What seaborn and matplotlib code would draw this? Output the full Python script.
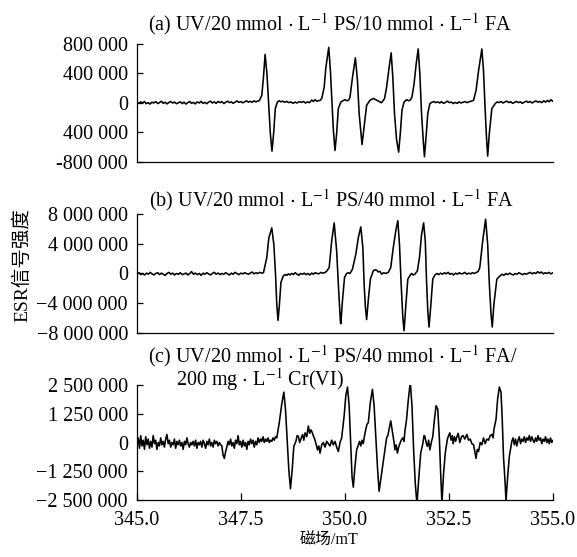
import matplotlib
matplotlib.use("Agg")
import matplotlib.pyplot as plt
import seaborn as sns
import pandas as pd

# ---------------- data (magnetic field in mT, ESR intensity in thousands) ----------------
spec_a = [
    (345.00, 10), (345.05, -5), (345.09, 15), (345.13, 0), (345.18, 20), (345.22, -10), (345.27, 5),
    (345.31, -15), (345.36, 10), (345.40, 0), (345.45, 18), (345.50, -8), (345.54, 5), (345.59, 25),
    (345.63, -5), (345.68, 10), (345.72, -12), (345.77, 8), (345.81, 20), (345.86, 0), (345.90, 12),
    (345.95, -10), (346.00, 5), (346.04, 15), (346.09, -8), (346.13, 10), (346.18, -15), (346.22, 5),
    (346.27, 20), (346.31, -5), (346.36, 8), (346.40, -12), (346.45, 15), (346.50, 0), (346.54, 22),
    (346.59, -6), (346.63, 10), (346.68, -10), (346.72, 12), (346.77, 25), (346.81, 0), (346.86, 15),
    (346.90, -5), (346.95, 20), (347.00, 5), (347.04, 18), (347.09, -8), (347.13, 10), (347.18, 25),
    (347.22, 5), (347.27, 15), (347.31, -5), (347.36, 12), (347.40, 28), (347.45, 8), (347.50, 20),
    (347.54, 2), (347.59, 15), (347.63, 30), (347.68, 12), (347.72, 22), (347.77, 10), (347.81, 28),
    (347.86, 15), (347.90, 25),
    (347.94, 30), (348.00, 102), (348.04, 347), (348.08, 658), (348.125, 391), (348.165, -9),
    (348.205, -409), (348.245, -653), (348.285, -409), (348.325, -76), (348.375, 13),
    (348.42, 30), (348.46, 15), (348.50, 25), (348.55, 10), (348.60, 22), (348.65, 5), (348.70, 15),
    (348.75, -5), (348.80, 12), (348.85, 0), (348.90, 18), (348.95, 8), (349.00, 20), (349.05, 0),
    (349.10, 15), (349.15, 5), (349.20, 40), (349.24, 20), (349.28, 45), (349.32, 25), (349.36, 30),
    (349.40, 35), (349.44, 60), (349.50, 213), (349.54, 480), (349.61, 755), (349.65, 435),
    (349.69, -9), (349.72, -364), (349.76, -644), (349.80, -409), (349.84, -76), (349.90, 13),
    (349.95, 30), (350.00, 45), (350.05, 30), (350.09, 40),
    (350.12, 80), (350.18, 347), (350.25, 613), (350.30, 302), (350.34, -142), (350.41, -564),
    (350.46, -320), (350.52, -31), (350.60, 36), (350.68, 62), (350.74, 45), (350.80, 27),
    (350.85, 10), (350.88, 5),
    (350.95, 58), (351.00, 213), (351.06, 480), (351.11, 680), (351.15, 347), (351.19, -142),
    (351.24, -498), (351.29, -667), (351.33, -409), (351.37, -98), (351.42, 13), (351.48, 44),
    (351.53, 30), (351.57, 40),
    (351.61, 80), (351.66, 258), (351.71, 524), (351.76, 733), (351.80, 391), (351.84, -142),
    (351.88, -498), (351.91, -729), (351.95, -453), (351.99, -142), (352.04, -9),
    (352.09, 10), (352.14, 20), (352.18, 5), (352.23, 15), (352.28, 0), (352.32, 18), (352.37, -5),
    (352.42, 10), (352.46, 25), (352.51, 5), (352.56, 12), (352.60, -8), (352.65, 8), (352.70, -5),
    (352.74, 15), (352.79, 0), (352.84, 10), (352.88, 20), (352.93, 5), (352.98, 15), (353.03, 25),
    (353.09, 36), (353.15, 169), (353.21, 435), (353.29, 733), (353.33, 435), (353.37, -98),
    (353.40, -453), (353.43, -720), (353.47, -409), (353.53, -76), (353.61, -9),
    (353.66, 15), (353.70, 5), (353.75, 20), (353.80, 0), (353.84, 12), (353.89, 25), (353.94, 5),
    (353.98, 18), (354.03, -5), (354.08, 10), (354.12, 22), (354.17, 5), (354.22, 15), (354.26, -5),
    (354.31, 12), (354.36, 25), (354.40, 8), (354.45, 20), (354.50, 0), (354.54, 15), (354.59, 28),
    (354.64, 10), (354.68, 22), (354.73, 5), (354.78, 30), (354.82, 12), (354.87, 35), (354.91, 15),
    (354.95, 45), (355.00, 20),
]

spec_b = [
    (345.00, -50), (345.05, 100), (345.09, -150), (345.14, 0), (345.18, -200), (345.23, 50),
    (345.27, -100), (345.32, 150), (345.36, -50), (345.41, -200), (345.45, 0), (345.50, 100),
    (345.54, -150), (345.59, 50), (345.63, -100), (345.68, -250), (345.72, 0), (345.77, 150),
    (345.81, -100), (345.86, 50), (345.90, -200), (345.95, 0), (346.00, -100), (346.04, 100),
    (346.09, -150), (346.13, -50), (346.18, 50), (346.22, -200), (346.27, 0), (346.31, 250),
    (346.36, -100), (346.40, 50), (346.45, -150), (346.50, 0), (346.54, -250), (346.59, 50),
    (346.63, -100), (346.68, 100), (346.72, -50), (346.77, -200), (346.81, 0), (346.86, 150),
    (346.90, -100), (346.95, 50), (347.00, -150), (347.04, 0), (347.09, -100), (347.13, 100),
    (347.18, -50), (347.22, -200), (347.27, 50), (347.31, -100), (347.36, 150), (347.40, 0),
    (347.45, -150), (347.50, 50), (347.54, -50), (347.59, 100), (347.63, 0), (347.68, -100),
    (347.72, 50), (347.77, 200), (347.81, -50), (347.86, 100), (347.90, 0), (347.95, 150),
    (348.00, 50),
    (348.04, 100), (348.12, 2130), (348.17, 4800), (348.24, 6130), (348.29, 3900), (348.33, -90),
    (348.36, -4100), (348.39, -6300), (348.42, -4500), (348.46, -1200), (348.52, -300),
    (348.56, -150), (348.60, -250), (348.64, -50), (348.68, -200), (348.72, 0), (348.76, -150),
    (348.80, 100), (348.85, -100), (348.89, -250), (348.93, 0), (348.98, -100), (349.02, 50),
    (349.06, -150), (349.11, 0), (349.15, -200), (349.20, 50), (349.24, -100), (349.28, 100),
    (349.33, 0), (349.37, -50), (349.42, 150), (349.46, 50), (349.51, 100),
    (349.56, 300), (349.62, 800), (349.68, 4360), (349.74, 6800), (349.80, 3000), (349.84, -1420),
    (349.89, -6500), (349.90, -6760), (349.94, -3600), (349.99, -500), (350.04, 0), (350.08, 100),
    (350.12, 0),
    (350.18, 580), (350.26, 2580), (350.32, 4800), (350.38, 6270), (350.43, 3470), (350.46, -1420),
    (350.49, -4500), (350.52, -6200), (350.56, -3600), (350.61, -760), (350.68, 360), (350.72, 500),
    (350.76, 440), (350.80, 200), (350.84, 300), (350.88, -90), (350.93, 100), (350.98, 0),
    (351.04, 150),
    (351.10, 800), (351.16, 3470), (351.22, 5700), (351.27, 7100), (351.31, 3900), (351.35, -1420),
    (351.39, -5900), (351.42, -7700), (351.46, -4500), (351.51, -760), (351.56, -300), (351.60, 0),
    (351.64, -200), (351.68, -90), (351.74, 360),
    (351.79, 2130), (351.84, 5200), (351.89, 6800), (351.93, 4360), (351.96, -980), (351.99, -5000),
    (352.02, -7200), (352.06, -4500), (352.11, -760), (352.16, -200), (352.21, 0), (352.25, -150),
    (352.30, 50), (352.34, -100), (352.39, 100), (352.43, -50), (352.48, 150), (352.52, -100),
    (352.57, 0), (352.61, -200), (352.66, 50), (352.70, -100), (352.75, 100), (352.79, -50),
    (352.84, 0), (352.88, 150), (352.93, -100), (352.97, 50), (353.02, -50), (353.06, 100),
    (353.11, 0), (353.16, 150), (353.20, 250),
    (353.24, 800), (353.31, 4360), (353.38, 7300), (353.43, 3900), (353.47, -1420), (353.51, -5400),
    (353.54, -7200), (353.58, -4100), (353.65, -760), (353.73, -300), (353.78, -100), (353.82, -250),
    (353.87, 0), (353.91, -150), (353.96, 50), (354.00, -100), (354.05, -200), (354.09, 0),
    (354.14, -100), (354.18, 100), (354.23, -50), (354.27, -150), (354.32, 0), (354.36, -100),
    (354.41, 50), (354.45, 150), (354.50, -50), (354.54, 100), (354.59, 0), (354.63, 250),
    (354.68, 50), (354.72, 200), (354.77, -50), (354.81, 100), (354.86, 0), (354.90, 150),
    (354.95, -50), (355.00, 100),
]

spec_c = [
    (345.00, -100), (345.03, 200), (345.06, -250), (345.09, 300), (345.12, -150), (345.15, 100),
    (345.18, -300), (345.21, 250), (345.24, -100), (345.27, 150), (345.30, -250), (345.33, 50),
    (345.36, -200), (345.39, 300), (345.42, -50), (345.45, 100), (345.48, -300), (345.51, 0),
    (345.54, -150), (345.57, 200), (345.60, -100), (345.63, 50), (345.66, -200), (345.69, 150),
    (345.72, 350), (345.75, -50), (345.78, 100), (345.81, -200), (345.84, 0), (345.87, -100),
    (345.90, 150), (345.93, -250), (345.96, 50), (345.99, -100), (346.02, 100), (346.05, -150),
    (346.08, 0), (346.11, -300), (346.14, 50), (346.17, -100), (346.20, 200), (346.23, -50),
    (346.26, -200), (346.29, 0), (346.32, -100), (346.35, 50), (346.38, -150), (346.41, 100),
    (346.44, -250), (346.47, 0), (346.50, -100), (346.53, 50), (346.56, -200), (346.59, 100),
    (346.62, -50), (346.65, -250), (346.68, 50), (346.71, -100), (346.74, 150), (346.77, -150),
    (346.80, 0), (346.83, -200), (346.86, 100), (346.89, -50), (346.92, 50), (346.95, -150),
    (346.98, 0), (347.01, -100), (347.04, -150), (347.07, -550), (347.10, -690), (347.13, -400),
    (347.16, -200), (347.19, 50), (347.22, -100), (347.25, 150), (347.28, -150), (347.31, 0),
    (347.34, -250), (347.37, 100), (347.40, -50), (347.43, 300), (347.46, -100), (347.49, 50),
    (347.52, -200), (347.55, 100), (347.58, -150), (347.61, 0), (347.64, -300), (347.67, 50),
    (347.70, -100), (347.73, 150), (347.76, -50), (347.79, 100), (347.82, -200), (347.85, 50),
    (347.88, -100), (347.91, 200), (347.94, 0), (347.97, 150), (348.00, 50), (348.03, 250),
    (348.06, 0), (348.09, 150), (348.12, 50), (348.15, 200), (348.18, 0), (348.21, 100),
    (348.24, 50), (348.27, 200), (348.30, 100), (348.33, 250),
    (348.36, 200), (348.42, 860), (348.48, 1670), (348.53, 2190), (348.57, 1450), (348.61, 130),
    (348.65, -1200), (348.69, -2010), (348.73, -1200), (348.77, -170), (348.82, 50), (348.85, 300),
    (348.88, 270), (348.91, 0), (348.94, 150), (348.98, 350), (349.01, 100), (349.04, 420),
    (349.08, 250), (349.12, 720), (349.15, 400), (349.18, 550), (349.20, 490), (349.24, 300),
    (349.28, 100), (349.31, -100), (349.34, -320), (349.37, -150), (349.40, -460), (349.44, -100),
    (349.48, 0), (349.52, -200), (349.56, 50), (349.60, -50), (349.64, -150), (349.68, 100),
    (349.72, -100), (349.76, 50), (349.80, -200), (349.84, -390), (349.88, 0), (349.92, 200),
    (349.98, 1160), (350.02, 2040), (350.06, 2410), (350.10, 1600), (350.14, -170), (350.17, -1500),
    (350.20, -1940), (350.24, -1050), (350.28, -320), (350.32, -100), (350.35, 50), (350.38, -150),
    (350.41, 100), (350.44, -50), (350.47, 300),
    (350.50, 570), (350.53, 800), (350.56, 860), (350.61, 1750), (350.66, 2310), (350.70, 1600),
    (350.74, 270), (350.78, -1050), (350.82, -2120), (350.88, -1350), (350.94, -610), (351.00, 200),
    (351.03, 300), (351.06, 570), (351.10, 940), (351.12, 700), (351.15, 350), (351.18, 0),
    (351.20, -320), (351.23, -100), (351.26, -460), (351.29, -200), (351.32, -50), (351.35, 100),
    (351.39, 200), (351.42, 50), (351.44, 490),
    (351.48, 1000), (351.52, 1820), (351.57, 2630), (351.61, 1600), (351.65, -320), (351.69, -1790),
    (351.73, -2680), (351.77, -1640), (351.82, -460), (351.87, -50), (351.90, 300), (351.92, 270),
    (351.95, 0), (351.98, -170), (352.01, 100), (352.04, -320), (352.08, 50), (352.11, 250),
    (352.15, 1000), (352.19, 1600), (352.21, 1520), (352.23, 1450), (352.27, 130), (352.30, -1350),
    (352.33, -2600), (352.37, -1350), (352.41, -460), (352.46, 130), (352.49, 300), (352.52, 420),
    (352.55, 100), (352.58, 300), (352.60, -50), (352.63, 250), (352.66, 50), (352.68, 200),
    (352.72, 400), (352.76, 0), (352.80, 250), (352.84, 300), (352.88, 150), (352.93, 350),
    (352.97, 100), (353.01, 150), (353.05, -50), (353.09, -100), (353.12, -400), (353.15, -690),
    (353.18, -300), (353.21, -390), (353.25, 0), (353.29, -100), (353.33, 200), (353.37, -50),
    (353.41, 150), (353.45, 100), (353.49, 300), (353.53, 350), (353.56, 200), (353.58, 570),
    (353.63, 1000), (353.67, 1900), (353.71, 2410), (353.75, 2190), (353.78, 1000), (353.81, -610),
    (353.85, -1790), (353.87, -2530), (353.91, -1500), (353.95, -610), (354.01, 50), (354.04, 200),
    (354.07, -100), (354.10, 150), (354.13, -150), (354.16, 100), (354.19, 250), (354.22, -50),
    (354.25, 150), (354.28, 50), (354.31, 250), (354.34, 0), (354.37, 200), (354.40, 100),
    (354.43, 300), (354.46, 50), (354.49, 250), (354.52, 100), (354.55, 0), (354.58, 200),
    (354.61, 50), (354.64, 300), (354.67, 100), (354.70, 200), (354.73, -50), (354.76, 150),
    (354.79, 50), (354.82, 250), (354.85, 0), (354.88, 150), (354.91, -50), (354.94, 200),
    (354.97, 0), (355.00, 100),
]

# axis ticks / labels
yticks_a = [800000, 400000, 0, -400000, -800000]
yticklabels_a = ["800 000", "400 000", "0", "400 000", "-800 000"]
yticks_b = [8000000, 4000000, 0, -4000000, -8000000]
yticklabels_b = ["8 000 000", "4 000 000", "0", "\u22124 000 000", "\u22128 000 000"]
yticks_c = [2500000, 1250000, 0, -1250000, -2500000]
yticklabels_c = ["2 500 000", "1 250 000", "0", "\u22121 250 000", "\u22122 500 000"]
xticks = [345.0, 347.5, 350.0, 352.5, 355.0]
xticklabels = ["345.0", "347.5", "350.0", "352.5", "355.0"]

title_a = r"(a) UV/20 mmol $\cdot$ L$^{-1}$ PS/10 mmol $\cdot$ L$^{-1}$ FA"
title_b = r"(b) UV/20 mmol $\cdot$ L$^{-1}$ PS/40 mmol $\cdot$ L$^{-1}$ FA"
title_c1 = r"(c) UV/20 mmol $\cdot$ L$^{-1}$ PS/40 mmol $\cdot$ L$^{-1}$ FA/"
title_c2 = r"200 mg $\cdot$ L$^{-1}$ Cr(VI)"
ylabel = "ESR信号强度"
xlabel = "磁场/mT"

# ---------------- plotting ----------------
sns.set_theme(style="ticks")
plt.rcParams['font.family'] = ['Liberation Serif', 'Noto Sans CJK SC', 'DejaVu Sans']
plt.rcParams['mathtext.fontset'] = 'stix'
plt.rcParams['axes.unicode_minus'] = True
for key in ['text.color', 'axes.labelcolor', 'xtick.color', 'ytick.color', 'axes.edgecolor']:
    plt.rcParams[key] = 'black'

FS = 14.5
fig = plt.figure(figsize=(5.77, 5.57), dpi=100)
left, width = 0.2374, 0.7210
boxes = [(0.7092, 0.2118), (0.4022, 0.2136), (0.1023, 0.2065)]
specs = [spec_a, spec_b, spec_c]
ylims = [(-800000, 800000), (-8000000, 8000000), (-2500000, 2500000)]
yt = [(yticks_a, yticklabels_a), (yticks_b, yticklabels_b), (yticks_c, yticklabels_c)]

for i, (spec, (b, h), ylim, (ticks, labels)) in enumerate(zip(specs, boxes, ylims, yt)):
    ax = fig.add_axes([left, b, width, h])
    df = pd.DataFrame(spec, columns=["field", "k"])
    df["intensity"] = df["k"] * 1000.0
    sns.lineplot(data=df, x="field", y="intensity", ax=ax, color="black",
                 linewidth=1.15, estimator=None, sort=False)
    ax.set_xlim(345.0, 355.0)
    ax.set_ylim(*ylim)
    ax.set_yticks(ticks)
    ax.set_yticklabels(labels, fontsize=FS)
    ax.set_xlabel("")
    ax.set_ylabel("")
    for s in ["top", "right"]:
        ax.spines[s].set_visible(False)
    for s in ["left", "bottom"]:
        ax.spines[s].set_linewidth(0.9)
        ax.spines[s].set_color("black")
    ax.tick_params(axis="y", direction="in", length=4, width=0.9, pad=6.5, colors="black")
    if i < 2:
        ax.set_xticks([])
    else:
        ax.set_xticks(xticks)
        ax.set_xticklabels(xticklabels, fontsize=FS)
        ax.tick_params(axis="x", direction="in", length=5, width=0.9, pad=8, colors="black")
    ax.set_facecolor("white")

fig.text(148/577, 1-24/557, title_a, fontsize=FS, ha="left", va="center")
fig.text(149/577, 1-200/557, title_b, fontsize=FS, ha="left", va="center")
fig.text(148/577, 1-356/557, title_c1, fontsize=FS, ha="left", va="center")
fig.text(176/577, 1-380/557, title_c2, fontsize=FS, ha="left", va="center")
fig.text(22/577, 1-265/557, ylabel, fontsize=14, rotation=90, ha="center", va="center")
fig.text(329/577, 1-541/557, xlabel, fontsize=11.5, ha="center", va="center")

fig.savefig("out.png", dpi=100, facecolor="white")
